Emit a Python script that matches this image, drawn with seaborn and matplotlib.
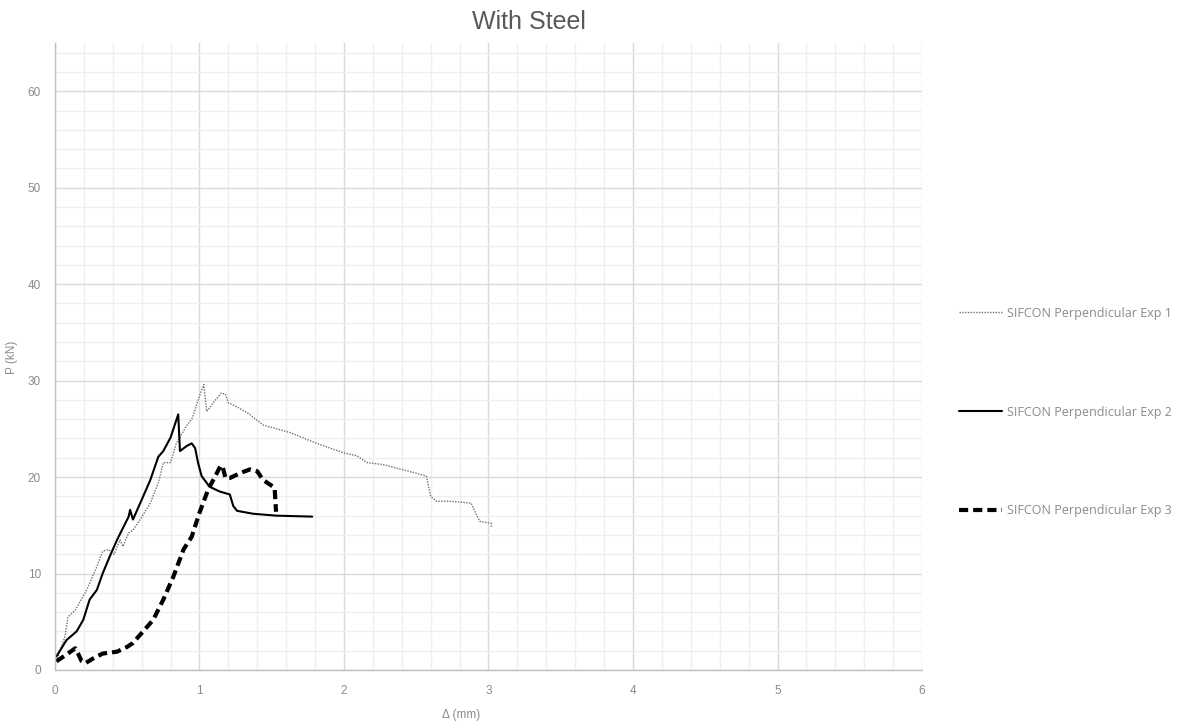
import matplotlib
matplotlib.use("Agg")
import matplotlib.pyplot as plt
import seaborn as sns
import pandas as pd
from matplotlib.ticker import MultipleLocator

# ---- data ----
exp1_x = [0.01, 0.07, 0.09, 0.14, 0.22, 0.29, 0.33, 0.37, 0.41, 0.45, 0.47, 0.51, 0.54, 0.59, 0.66,
          0.715, 0.75, 0.80, 0.84, 0.91, 0.95, 1.00, 1.03, 1.05, 1.095, 1.15, 1.18, 1.20, 1.23,
          1.33, 1.44, 1.51, 1.63, 1.81, 2.00, 2.09, 2.16, 2.27, 2.50, 2.57, 2.60, 2.64, 2.73,
          2.88, 2.91, 2.94, 3.02, 3.02]
exp1_y = [0.9, 3.5, 5.5, 6.2, 8.3, 10.7, 12.3, 12.5, 12.0, 13.5, 12.8, 14.2, 14.5, 15.6, 17.3,
          19.4, 21.5, 21.5, 23.5, 25.3, 26.1, 28.4, 29.6, 26.8, 27.7, 28.7, 28.6, 27.7, 27.5,
          26.7, 25.4, 25.1, 24.6, 23.5, 22.5, 22.2, 21.5, 21.3, 20.4, 20.1, 18.0, 17.5, 17.5,
          17.3, 16.3, 15.4, 15.2, 14.8]

exp2_x = [0.01, 0.08, 0.15, 0.196, 0.24, 0.29, 0.33, 0.38, 0.43, 0.47, 0.51, 0.52, 0.54, 0.59,
          0.66, 0.715, 0.75, 0.80, 0.853, 0.865, 0.91, 0.946, 0.97, 0.99, 1.015, 1.07, 1.14,
          1.21, 1.234, 1.26, 1.37, 1.53, 1.78]
exp2_y = [1.4, 3.1, 4.0, 5.2, 7.3, 8.3, 10.0, 11.8, 13.5, 14.7, 15.9, 16.6, 15.6, 17.3,
          19.7, 22.1, 22.7, 24.1, 26.5, 22.7, 23.2, 23.5, 23.0, 21.5, 20.1, 19.0, 18.5,
          18.2, 17.0, 16.5, 16.2, 16.0, 15.9]

exp3_x = [0.01, 0.08, 0.14, 0.16, 0.185, 0.21, 0.265, 0.33, 0.43, 0.50, 0.54, 0.61, 0.68, 0.75,
          0.82, 0.89, 0.946, 1.00, 1.06, 1.12, 1.147, 1.16, 1.18, 1.21, 1.28, 1.35, 1.40, 1.44,
          1.52, 1.53]
exp3_y = [0.9, 1.6, 2.25, 1.7, 0.9, 0.7, 1.2, 1.7, 1.9, 2.4, 2.8, 4.0, 5.2, 7.3,
          9.7, 12.5, 13.8, 16.3, 18.7, 20.4, 21.2, 21.1, 19.9, 19.9, 20.4, 20.8, 20.6, 19.7,
          18.9, 16.4]

labels = ["SIFCON Perpendicular Exp 1", "SIFCON Perpendicular Exp 2", "SIFCON Perpendicular Exp 3"]
x_ticks = [0, 1, 2, 3, 4, 5, 6]
y_ticks = [0, 10, 20, 30, 40, 50, 60]

# ---- plot ----
sns.set_theme(style="white")
plt.rcParams['font.family'] = ['Liberation Sans', 'DejaVu Sans']

fig = plt.figure(figsize=(11.92, 7.28), dpi=100)
ax = fig.add_axes([0.0461, 0.0797, 0.7274, 0.8612])

d1 = pd.DataFrame({"x": exp1_x, "y": exp1_y})
d2 = pd.DataFrame({"x": exp2_x, "y": exp2_y})
d3 = pd.DataFrame({"x": exp3_x, "y": exp3_y})

sns.lineplot(data=d1, x="x", y="y", ax=ax, sort=False, estimator=None, color="#707070",
             linewidth=1.0, linestyle=(0, (1, 1)), label=labels[0])
sns.lineplot(data=d2, x="x", y="y", ax=ax, sort=False, estimator=None, color="black",
             linewidth=1.5, linestyle="-", label=labels[1])
sns.lineplot(data=d3, x="x", y="y", ax=ax, sort=False, estimator=None, color="black",
             linewidth=3.0, linestyle=(0, (2.2, 1.2)), label=labels[2])

ax.set_xlim(0, 6)
ax.set_ylim(0, 65)
ax.set_xticks(x_ticks)
ax.set_yticks(y_ticks)
ax.xaxis.set_minor_locator(MultipleLocator(0.2))
ax.yaxis.set_minor_locator(MultipleLocator(2))
ax.grid(which="major", color="#d9d9d9", linewidth=1.0)
ax.grid(which="minor", color="#efefef", linewidth=1.0)
ax.set_axisbelow(True)
for s in ["top", "right"]:
    ax.spines[s].set_visible(False)
for s in ["left", "bottom"]:
    ax.spines[s].set_color("#bfbfbf")
    ax.spines[s].set_linewidth(1.0)
ax.tick_params(axis="both", which="both", length=0, labelsize=8.5, labelcolor="#8a8a8a")
ax.tick_params(axis="x", pad=11)
ax.tick_params(axis="y", pad=10)

ax.set_xlabel("Δ (mm)", fontsize=8.5, color="#8a8a8a")
ax.set_ylabel("P (kN)", fontsize=8.5, color="#8a8a8a")
ax.xaxis.set_label_coords(0.469, -0.0625)
ax.yaxis.set_label_coords(-0.0425, 0.499)
fig.text(0.444, 0.97, "With Steel", fontsize=18, color="#595959", ha="center", va="center")

ax.legend_.remove()
h, l = ax.get_legend_handles_labels()
leg = fig.legend(h, l, loc="center left", bbox_to_anchor=(0.795, 0.434), frameon=False,
                 prop={"family": ["Open Sans", "DejaVu Sans"], "size": 9},
                 labelspacing=6.86, handlelength=3.44, handletextpad=0.4)
for t in leg.get_texts():
    t.set_color("#8a8a8a")

fig.savefig("out.png", dpi=100)
